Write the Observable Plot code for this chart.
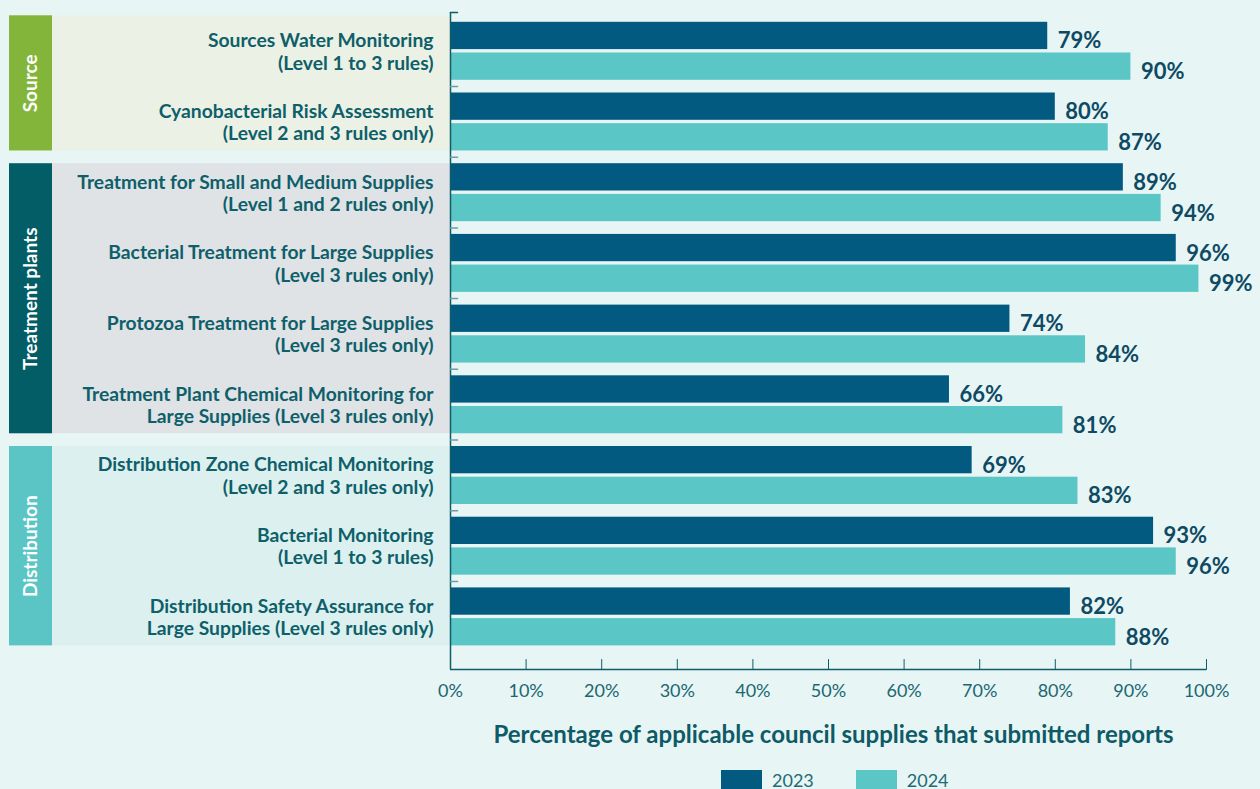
<!DOCTYPE html>
<html>
<head>
<meta charset="utf-8">
<script src="https://cdn.jsdelivr.net/npm/d3@7"></script>
<script src="https://cdn.jsdelivr.net/npm/@observablehq/plot@0.6"></script>
<style>
  html, body { margin: 0; padding: 0; background: #e7f5f5; }
  body { width: 1260px; height: 789px; overflow: hidden; font-family: Lato, sans-serif; }
  #legend { margin-top: 3px; padding-left: 721px; }
  .lg-swatches { font-family: Lato, sans-serif !important; font-size: 18px !important; font-weight: 400; color: #1e6b73; margin: 0 !important; }
  .lg-swatch { margin-right: 42px !important; }
  .lg-swatch > svg { margin-right: 10px !important; }
</style>
</head>
<body>
<div id="chart"></div>
<div id="legend"></div>
<script>
// ---- data ----
const categories = [
  "Sources Water Monitoring\n(Level 1 to 3 rules)",
  "Cyanobacterial Risk Assessment\n(Level 2 and 3 rules only)",
  "Treatment for Small and Medium Supplies\n(Level 1 and 2 rules only)",
  "Bacterial Treatment for Large Supplies\n(Level 3 rules only)",
  "Protozoa Treatment for Large Supplies\n(Level 3 rules only)",
  "Treatment Plant Chemical Monitoring for\nLarge Supplies (Level 3 rules only)",
  "Distribution Zone Chemical Monitoring\n(Level 2 and 3 rules only)",
  "Bacterial Monitoring\n(Level 1 to 3 rules)",
  "Distribution Safety Assurance for\nLarge Supplies (Level 3 rules only)"
];
const values2023 = [79, 80, 89, 96, 74, 66, 69, 93, 82];
const values2024 = [90, 87, 94, 99, 84, 81, 83, 96, 88];
const years = ["2023", "2024"];
const yearColors = ["#025a80", "#5bc6c6"];
const groupNames = ["Source", "Treatment plants", "Distribution"];
const groupFirst = [0, 2, 6];
const groupLast = [1, 5, 8];
const groupColors = ["#83b53a", "#035d67", "#5bc5c5"];
const groupBgColors = ["#ebf1e4", "#dfe3e6", "#dcf0ef"];
const xTicks = [0, 10, 20, 30, 40, 50, 60, 70, 80, 90, 100];
const xTitle = "Percentage of applicable council supplies that submitted reports";

// ---- layout ----
const W = 1260, H = 760, M_TOP = 12, M_LEFT = 9, X0 = 450, X1 = 1206, AXIS_Y = 669;
const BAND_W = 43;
const BAR_PAD = 0.092, BAR_H = 0.386, BAR_GAP = 0.048, Y_END_PAD = 0.246;
const N = categories.length;

const rows = categories.flatMap((c, i) => [
  {i, cat: c, year: years[0], value: values2023[i], color: yearColors[0]},
  {i, cat: c, year: years[1], value: values2024[i], color: yearColors[1]}
]);
const barTop = d => d.i + BAR_PAD + (d.year === years[0] ? 0 : BAR_H + BAR_GAP);
const groups = groupNames.map((g, k) => ({
  name: g, first: groupFirst[k], last: groupLast[k], color: groupColors[k], bg: groupBgColors[k]
}));
const groupTop = d => d.first === 0 ? 0 : d.first + BAR_PAD;
const groupBottom = d => d.last + BAR_PAD + 2 * BAR_H + BAR_GAP;
const lineShape = {draw(ctx, l) { ctx.moveTo(0, 0); ctx.lineTo(0, -l); }};

const AXIS_COLOR = "#0d5e68";

const chart = Plot.plot({
  width: W, height: H,
  marginTop: M_TOP, marginLeft: M_LEFT, marginRight: W - X1, marginBottom: H - AXIS_Y,
  style: {fontFamily: "Lato, sans-serif", background: "transparent", overflow: "visible"},
  x: {domain: [0, 100], range: [X0, X1], axis: null, label: null},
  y: {domain: [0, N + Y_END_PAD], reverse: true, insetTop: 3.3, axis: null, label: null},
  marks: [
    // group panels
    Plot.rect(groups, {y1: groupTop, y2: groupBottom, fill: d => d.bg, insetLeft: BAND_W, insetRight: X1 - X0}),
    Plot.rect(groups, {y1: groupTop, y2: groupBottom, fill: d => d.color, insetRight: X1 - M_LEFT - BAND_W}),
    Plot.text(groups, {
      y: d => (groupTop(d) + groupBottom(d)) / 2, frameAnchor: "left", dx: BAND_W / 2,
      textAnchor: "middle", lineAnchor: "middle",
      text: "name", rotate: -90, fill: "white", fontSize: 19, fontWeight: 700
    }),
    // category labels
    Plot.text(d3.range(N), {
      x: 0, y: i => i + 0.5, text: i => categories[i], textAnchor: "end", dx: -17,
      lineHeight: 1.16, fontSize: 19.3, fontWeight: 700, fill: "#0e5f6a"
    }),
    // bars
    Plot.rect(rows, {x1: 0, x2: "value", y1: barTop, y2: d => barTop(d) + BAR_H, fill: d => d.color}),
    // value labels
    Plot.text(rows, {
      x: "value", y: d => barTop(d) + BAR_H / 2, text: d => d.value + "%",
      textAnchor: "start", dx: 10, dy: 5.5, fontSize: 22, fontWeight: 700, fill: "#0e4a63"
    }),
    // axes
    Plot.ruleX([0], {stroke: AXIS_COLOR, strokeWidth: 1.5}),
    Plot.ruleY([N + Y_END_PAD], {x1: 0, x2: 100, stroke: AXIS_COLOR, strokeWidth: 1.5}),
    Plot.vector([0], {x: 0, frameAnchor: "top", rotate: 90, length: 7, anchor: "start", shape: lineShape, stroke: AXIS_COLOR, strokeWidth: 1.5}),
    Plot.vector(d3.range(1, N), {x: 0, y: d => d, rotate: 90, length: 7, anchor: "start", shape: lineShape, stroke: "#6a9fa5", strokeWidth: 1.5}),
    Plot.vector(xTicks, {x: d => d, frameAnchor: "bottom", rotate: 0, length: 10, anchor: "start", shape: lineShape, stroke: AXIS_COLOR, strokeWidth: 1}),
    Plot.axisX(xTicks, {
      tickFormat: d => d + "%", tickSize: 0, tickPadding: 15, fontSize: 18, fontWeight: 400,
      color: "#1b6770", label: null
    }),
    Plot.text([xTitle], {
      x: 50, frameAnchor: "bottom", dy: 73, dx: 5, text: d => d,
      fontSize: 24, fontWeight: 700, fill: "#0e5a66"
    })
  ]
});
document.getElementById("chart").append(chart);

const legend = Plot.legend({
  color: {domain: years, range: yearColors},
  legend: "swatches", swatchWidth: 41, swatchHeight: 20, className: "lg"
});
document.getElementById("legend").append(legend);
</script>
</body>
</html>
